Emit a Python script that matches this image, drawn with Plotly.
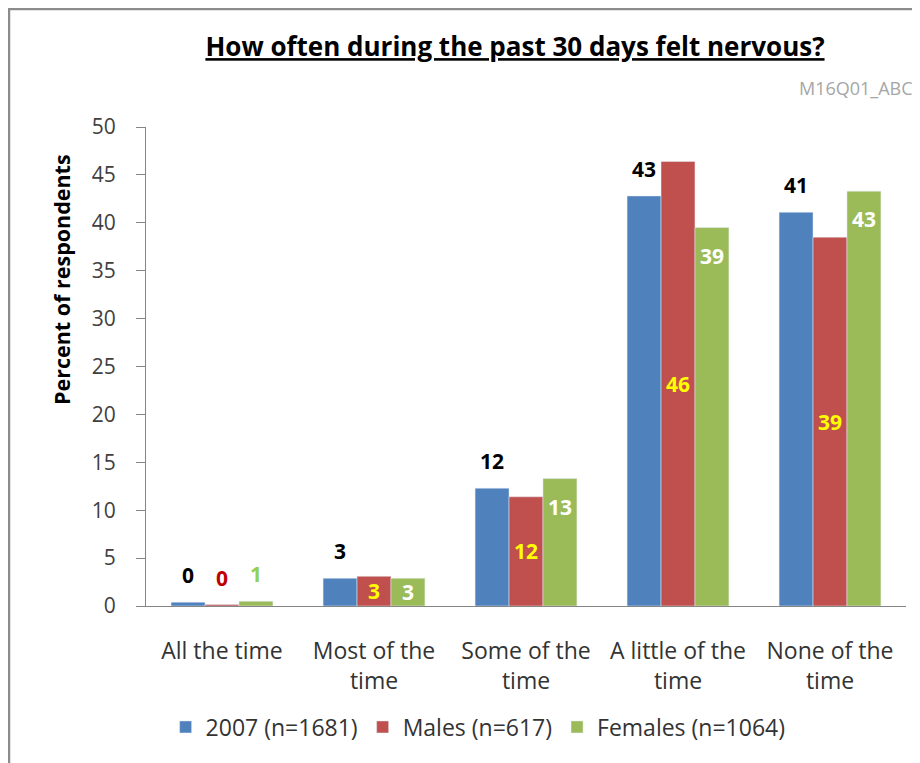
import plotly.graph_objects as go

categories = ["All the time", "Most of the<br>time", "Some of the<br>time", "A little of the<br>time", "None of the<br>time"]
series_names = ["2007 (n=1681)", "Males (n=617)", "Females (n=1064)"]
vals_2007 = [0.4, 2.9, 12.3, 42.8, 41.1]
vals_males = [0.15, 3.1, 11.4, 46.4, 38.5]
vals_females = [0.5, 2.9, 13.3, 39.5, 43.3]
labels_2007 = ["0", "3", "12", "43", "41"]
labels_males = ["0", "3", "12", "46", "39"]
labels_females = ["1", "3", "13", "39", "43"]
y_ticks = [0, 5, 10, 15, 20, 25, 30, 35, 40, 45, 50]

FONT = "Open Sans"
colors = ["#4F81BD", "#C0504D", "#9BBB59"]
LBL = 21

# label placement (outside above / middle of bar / inside near top) and colours
place_2007 = ["out"] * 5
place_males = ["out", "mid", "mid", "mid", "mid"]
place_females = ["out", "mid", "end", "end", "end"]
lblcol_2007 = ["black"] * 5
lblcol_males = ["#C00000", "#FFFF00", "#FFFF00", "#FFFF00", "#FFFF00"]
lblcol_females = ["#92D050", "white", "white", "white", "white"]

W, H = 912, 755
ML, MR, MT, MB = 138, 14, 119, 157
BARGAP = 0.33
plot_w = W - ML - MR
bar_px = plot_w / len(categories) * (1 - BARGAP) / 3

fig = go.Figure()
for vals, name, col in zip([vals_2007, vals_males, vals_females], series_names, colors):
    fig.add_trace(go.Bar(x=categories, y=vals, name=name, marker_color=col))

series = [
    (vals_2007, labels_2007, place_2007, lblcol_2007),
    (vals_males, labels_males, place_males, lblcol_males),
    (vals_females, labels_females, place_females, lblcol_females),
]
for i, (vals, labs, places, cols) in enumerate(series):
    for cat, v, lab, pl, c in zip(categories, vals, labs, places, cols):
        if pl == "out":
            y, ys = v, 27
        elif pl == "mid":
            y, ys = v / 2, 0
        else:
            y, ys = v, -28
        fig.add_annotation(x=cat, y=y, xref="x", yref="y", text=f"<b>{lab}</b>",
                           xshift=(i - 1) * bar_px, yshift=ys, showarrow=False,
                           xanchor="center", yanchor="middle",
                           font=dict(family=FONT, size=LBL, color=c))

fig.update_layout(
    width=W, height=H, autosize=False,
    margin=dict(l=ML, r=MR, t=MT, b=MB, autoexpand=False),
    paper_bgcolor="white", plot_bgcolor="white",
    barmode="group", bargap=BARGAP, bargroupgap=0,
    font=dict(family=FONT, color="#404040"),
    title=dict(
        text="<b><u>How often during the past 30 days felt nervous?</u></b>",
        x=0.4855, xref="paper", xanchor="center", y=1 - 39/755, yref="container", yanchor="middle",
        font=dict(family=FONT, size=26, color="black"),
    ),
    showlegend=True,
    legend=dict(orientation="h", x=0.437, xanchor="center", y=-0.2526, yanchor="middle",
                font=dict(family=FONT, size=23, color="#333333"), traceorder="normal"),
    xaxis=dict(
        showline=True, linecolor="#868686", linewidth=1, ticks="", showgrid=False,
        tickfont=dict(family=FONT, size=23, color="#333333"), tickangle=0,
        ticklabelstandoff=24,
    ),
    yaxis=dict(
        range=[0, 50], tickvals=y_ticks, showline=True, linecolor="#868686", linewidth=1,
        ticks="outside", ticklen=9, tickcolor="#868686", showgrid=False, zeroline=False,
        tickfont=dict(family=FONT, size=21, color="#404040"), ticklabelstandoff=16,
    ),
)

fig.add_annotation(text="<b>Percent of respondents</b>", textangle=-90,
                   xref="paper", yref="paper", x=-0.1105, y=0.6806,
                   xanchor="center", yanchor="middle", showarrow=False,
                   font=dict(family=FONT, size=21.5, color="black"))

fig.add_annotation(text="M16Q01_ABC", xref="paper", yref="paper", x=1.012, y=1.081,
                   xanchor="right", yanchor="middle", showarrow=False,
                   font=dict(family=FONT, size=18, color="#A6A6A6"))

fig.add_shape(type="rect", xref="paper", yref="paper",
              x0=-137/760, x1=1.1, y0=-0.5, y1=(598 - 1)/479,
              line=dict(color="#8C8C8C", width=2.5))

fig.write_html("out.html")
